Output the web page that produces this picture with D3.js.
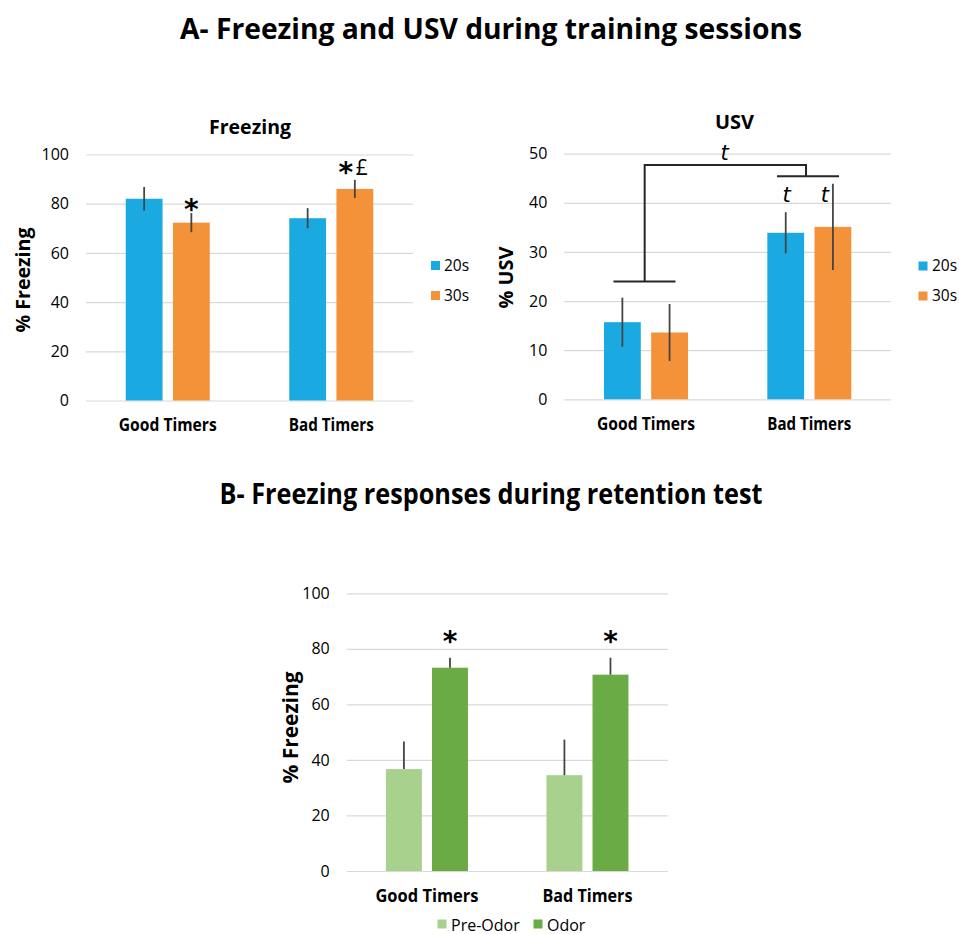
<!DOCTYPE html>
<html><head><meta charset="utf-8">
<script src="https://cdn.jsdelivr.net/npm/d3@7"></script>
<style>body{margin:0;background:#fff}svg{display:block}text{font-family:"Open Sans",sans-serif;fill:#000}</style>
</head><body>
<script>
// ---------- data ----------
const categories = ["Good Timers", "Bad Timers"];
const trainSeries = ["20s", "30s"];
const retentionSeries = ["Pre-Odor", "Odor"];

const freezing20 = [82.0, 74.1];
const freezing20Err = [4.8, 4.1];
const freezing30 = [72.3, 86.0];
const freezing30Err = [3.9, 3.7];

const usv20 = [15.7, 33.9];
const usv20Err = [5.0, 4.2];
const usv30 = [13.6, 35.1];
const usv30Err = [5.8, 8.8];

const preOdor = [36.7, 34.5];
const preOdorErr = [9.9, 12.8];
const odor = [73.2, 70.7];
const odorErr = [3.6, 6.1];

const freezingTicks = [0, 20, 40, 60, 80, 100];
const usvTicks = [0, 10, 20, 30, 40, 50];

const colBlue = "#1BA9E1", colOrange = "#F4923A", colLight = "#A9D18E", colDark = "#6AAB45";

// ---------- drawing ----------
const svg = d3.select("body").append("svg").attr("width", 959).attr("height", 934);

function txt(s, x, y, opts) {
  const t = svg.append("text").attr("x", x).attr("y", y).text(s);
  t.attr("font-size", opts.size || 16).attr("font-weight", opts.bold ? 700 : 400)
   .attr("text-anchor", opts.anchor || "middle");
  if (opts.len) t.attr("textLength", opts.len).attr("lengthAdjust", "spacingAndGlyphs");
  if (opts.italic) t.attr("font-style", "italic");
  if (opts.family) t.style("font-family", opts.family);
  if (opts.rotate) t.attr("transform", `rotate(-90,${x},${y})`);
  if (opts.fill) t.style("fill", opts.fill);
  return t;
}

function panel(cfg) {
  const y = d3.scaleLinear().domain([0, cfg.max]).range([cfg.y0, cfg.y1]);
  const x0 = d3.scaleBand().domain(categories).range([cfg.xl, cfg.xr]);
  const x1 = d3.scaleBand().domain(cfg.series).range([-cfg.group / 2, cfg.group / 2]).paddingInner(0.22);
  const g = svg.append("g");
  const ax = d3.axisLeft(y).tickValues(cfg.ticks).tickSize(-(cfg.xr - cfg.xl)).tickPadding(17);
  const a = g.append("g").attr("transform", `translate(${cfg.xl},0)`).call(ax);
  a.select(".domain").remove();
  a.selectAll(".tick line").attr("stroke", "#d9d9d9").attr("stroke-width", 1.2);
  a.selectAll(".tick text").attr("font-size", 16).style("font-family", '"Open Sans",sans-serif').attr("fill", "#000");
  cfg.series.forEach((s, i) => {
    const vals = cfg.values[i], errs = cfg.errs[i];
    const bg = g.append("g");
    bg.selectAll("rect").data(categories).join("rect")
      .attr("x", c => x0(c) + x0.bandwidth() / 2 + x1(s))
      .attr("width", x1.bandwidth())
      .attr("y", (c, k) => y(vals[k]))
      .attr("height", (c, k) => y(0) - y(vals[k]))
      .attr("fill", cfg.colors[i]);
    bg.selectAll("line").data(categories).join("line")
      .attr("x1", c => x0(c) + x0.bandwidth() / 2 + x1(s) + x1.bandwidth() / 2)
      .attr("x2", c => x0(c) + x0.bandwidth() / 2 + x1(s) + x1.bandwidth() / 2)
      .attr("y1", (c, k) => y(vals[k] + errs[k]))
      .attr("y2", (c, k) => cfg.plusOnly ? y(vals[k]) : y(vals[k] - errs[k]))
      .attr("stroke", "#454545").attr("stroke-width", 1.8);
  });
  categories.forEach((c, k) => {
    txt(c, x0(c) + x0.bandwidth() / 2 + cfg.labShift[k], cfg.labY, {size: 17, bold: true, len: cfg.labLen[k]});
  });
  return {x0, x1, y};
}

// Titles
txt("A- Freezing and USV during training sessions", 491, 39, {size: 29, bold: true, len: 622});
txt("B- Freezing responses during retention test", 491, 504, {size: 29, bold: true, len: 543});

// Panel A left: Freezing
const pA = panel({max: 100, y0: 400.5, y1: 154.5, xl: 86, xr: 413, group: 84, ticks: freezingTicks,
  series: trainSeries, values: [freezing20, freezing30], errs: [freezing20Err, freezing30Err],
  colors: [colBlue, colOrange], labY: 431, labShift: [0, 0], labLen: [98, 85]});
txt("Freezing", 250, 134, {size: 19, bold: true, len: 82});
txt("% Freezing", 30, 280, {size: 20, bold: true, rotate: true, len: 105});
trainSeries.forEach((s, i) => {
  svg.append("rect").attr("x", 431).attr("y", 261 + i * 30).attr("width", 9).attr("height", 9).attr("fill", [colBlue, colOrange][i]);
  txt(s, 444, 270.5 + i * 30, {size: 15.5, anchor: "start"});
});
const starX = (p, c, s) => p.x0(c) + p.x0.bandwidth() / 2 + p.x1(s) + p.x1.bandwidth() / 2;
txt("*", starX(pA, "Good Timers", "30s"), pA.y(80) + 15, {size: 28, bold: true, family: "DejaVu Sans"});
txt("*", starX(pA, "Bad Timers", "30s") - 9, pA.y(94.8) + 15, {size: 28, bold: true, family: "DejaVu Sans"});
txt("£", starX(pA, "Bad Timers", "30s") + 7, pA.y(94.8) + 8, {size: 21});

// Panel A right: USV
const pU = panel({max: 50, y0: 399.3, y1: 153.7, xl: 564.3, xr: 891, group: 84, ticks: usvTicks,
  series: trainSeries, values: [usv20, usv30], errs: [usv20Err, usv30Err],
  colors: [colBlue, colOrange], labY: 429.5, labShift: [0, 0], labLen: [98, 84]});
txt("USV", 734.5, 128.5, {size: 19, bold: true, len: 39});
txt("% USV", 513, 277.5, {size: 20, bold: true, rotate: true, len: 62});
trainSeries.forEach((s, i) => {
  svg.append("rect").attr("x", 918.5).attr("y", 261.5 + i * 30).attr("width", 9).attr("height", 9).attr("fill", [colBlue, colOrange][i]);
  txt(s, 932, 271 + i * 30, {size: 15.5, anchor: "start"});
});
const cG = pU.x0("Good Timers") + pU.x0.bandwidth() / 2, cB = pU.x0("Bad Timers") + pU.x0.bandwidth() / 2;
const bracketLevels = [24, 45.4, 47.7];
const bp = d3.path();
bp.moveTo(cG - 32.5, pU.y(bracketLevels[0])); bp.lineTo(cG + 29.5, pU.y(bracketLevels[0]));
bp.moveTo(cG - 1.3, pU.y(bracketLevels[0])); bp.lineTo(cG - 1.3, pU.y(bracketLevels[2]));
bp.lineTo(cB - 3.3, pU.y(bracketLevels[2])); bp.lineTo(cB - 3.3, pU.y(bracketLevels[1]));
bp.moveTo(cB - 32.3, pU.y(bracketLevels[1])); bp.lineTo(cB + 29.7, pU.y(bracketLevels[1]));
svg.append("path").attr("d", bp.toString()).attr("fill", "none").attr("stroke", "#262626").attr("stroke-width", 2);
txt("t", (cG + cB) / 2 - 3, pU.y(50.2) + 7, {size: 21, italic: true, family: "DejaVu Sans"});
txt("t", starX(pU, "Bad Timers", "20s") + 1, pU.y(41.6) + 7, {size: 21, italic: true, family: "DejaVu Sans"});
txt("t", starX(pU, "Bad Timers", "30s") - 8, pU.y(41.6) + 7, {size: 21, italic: true, family: "DejaVu Sans"});

// Panel B: retention
const pB = panel({max: 100, y0: 871, y1: 593.3, xl: 346.7, xr: 667.7, group: 82, ticks: freezingTicks,
  series: retentionSeries, values: [preOdor, odor], errs: [preOdorErr, odorErr], plusOnly: true,
  colors: [colLight, colDark], labY: 901.5, labShift: [0, 0], labLen: [103, 90]});
txt("% Freezing", 298, 727.5, {size: 21, bold: true, rotate: true, len: 112});
txt("*", starX(pB, "Good Timers", "Odor"), pB.y(84.5) + 15, {size: 28, bold: true, family: "DejaVu Sans"});
txt("*", starX(pB, "Bad Timers", "Odor"), pB.y(84.5) + 15, {size: 28, bold: true, family: "DejaVu Sans"});
const legB = [{x: 437.5, tx: 451}, {x: 533.5, tx: 547}];
retentionSeries.forEach((s, i) => {
  svg.append("rect").attr("x", legB[i].x).attr("y", 919.5).attr("width", 9).attr("height", 9).attr("fill", [colLight, colDark][i]);
  txt(s, legB[i].tx, 930.5, {size: 16, anchor: "start"});
});
</script>
</body></html>
